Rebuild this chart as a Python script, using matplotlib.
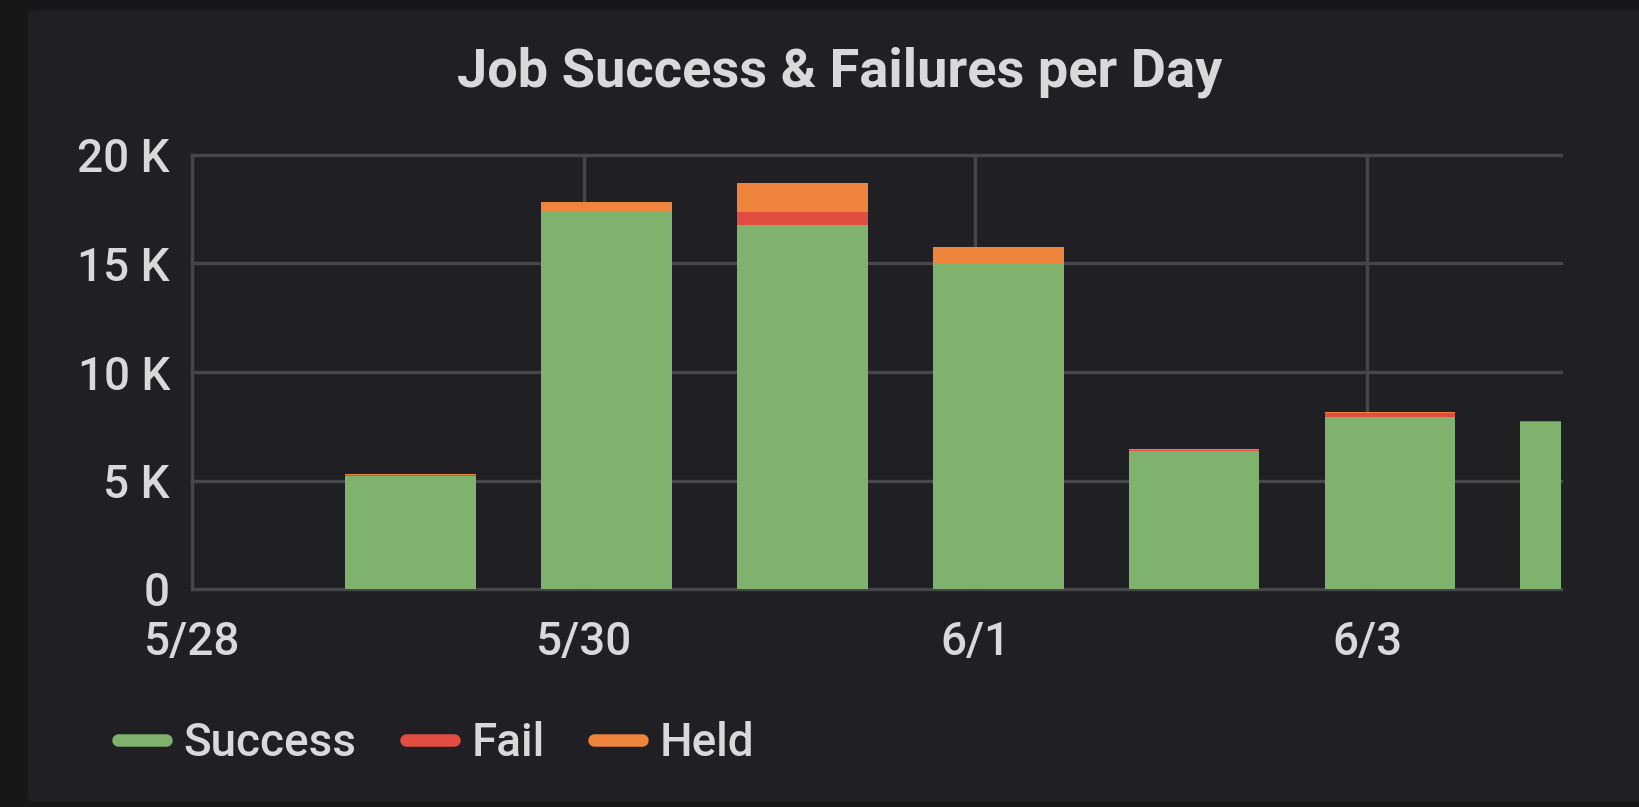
import matplotlib.pyplot as plt
import matplotlib.dates as mdates
import matplotlib.patches as mpatches
from matplotlib.lines import Line2D
import pandas as pd

# Data
days = ['2020-05-29 02:48', '2020-05-30 02:48', '2020-05-31 02:48', '2020-06-01 02:48',
        '2020-06-02 02:48', '2020-06-03 02:48', '2020-06-04 02:48']
success = [5220, 17390, 16770, 14960, 6370, 7940, 7710]
fail = [30, 0, 610, 0, 20, 170, 20]
held = [50, 430, 1350, 780, 40, 60, 20]
series_names = ['Success', 'Fail', 'Held']
tick_days = ['2020-05-28', '2020-05-30', '2020-06-01', '2020-06-03']
x_start, x_end = '2020-05-28 00:00', '2020-06-04 00:00'
y_ticks = [0, 5000, 10000, 15000, 20000]

colors = ['#7EB26D', '#E24D42', '#EF843C']
panel_bg = '#202024'
outer_bg = '#161719'
text_col = '#d8d9da'
grid_col = '#47474a'

plt.rcParams['font.family'] = ['Roboto', 'DejaVu Sans']

fig = plt.figure(figsize=(16.39, 8.07), dpi=100)
fig.patch.set_facecolor(outer_bg)

# panel background
panel = mpatches.FancyBboxPatch((28 / 1639, 1 - 802 / 807), 1.2, (802 - 10) / 807,
                                boxstyle='round,pad=0,rounding_size=0.006',
                                transform=fig.transFigure, facecolor=panel_bg,
                                edgecolor='none', zorder=-5)
fig.patches.append(panel)

ax = fig.add_axes([192 / 1639, 1 - 589 / 807, (1561 - 192) / 1639, (589 - 155) / 807])
ax.patch.set_alpha(0)

x = mdates.date2num(pd.to_datetime(days))
w = 0.667
bottom2 = [s + f for s, f in zip(success, fail)]
ax.bar(x, success, width=w, color=colors[0], zorder=2)
ax.bar(x, fail, width=w, bottom=success, color=colors[1], zorder=2)
ax.bar(x, held, width=w, bottom=bottom2, color=colors[2], zorder=2)

ax.set_xlim(mdates.date2num(pd.Timestamp(x_start)), mdates.date2num(pd.Timestamp(x_end)) - 0.01)
ax.set_ylim(0, 20000)
ax.set_yticks(y_ticks)
ax.set_yticklabels(['0' if v == 0 else f'{v // 1000} K' for v in y_ticks])
ax.set_xticks(mdates.date2num(pd.to_datetime(tick_days)))
ax.set_xticklabels([f'{d.month}/{d.day}' for d in pd.to_datetime(tick_days)])

ax.set_axisbelow(True)
ax.grid(True, color=grid_col, linewidth=2.4)
for gl in ax.xaxis.get_gridlines() + ax.yaxis.get_gridlines():
    gl.set_clip_on(False)
for s in ax.spines.values():
    s.set_visible(False)
ax.tick_params(length=0, labelsize=33, colors=text_col)
ax.tick_params(axis='y', pad=16)
ax.tick_params(axis='x', pad=22)
for lbl in ax.get_xticklabels() + ax.get_yticklabels():
    lbl.set_fontweight('medium')

fig.text(840 / 1639, 1 - 72 / 807, 'Job Success & Failures per Day', ha='center', va='center',
         fontsize=39, color=text_col, fontweight='bold')

handles = [Line2D([], [], color=c, lw=9, solid_capstyle='round') for c in colors]
leg = fig.legend(handles, series_names, loc='center left', bbox_to_anchor=(118 / 1639, 1 - 743 / 807),
                 ncol=3, frameon=False, fontsize=33, labelcolor=text_col, handlelength=1.05,
                 handletextpad=0.38, columnspacing=1.08, borderpad=0, borderaxespad=0)
for t in leg.get_texts():
    t.set_fontweight('medium')

plt.savefig('out.png', dpi=100, facecolor=outer_bg)
